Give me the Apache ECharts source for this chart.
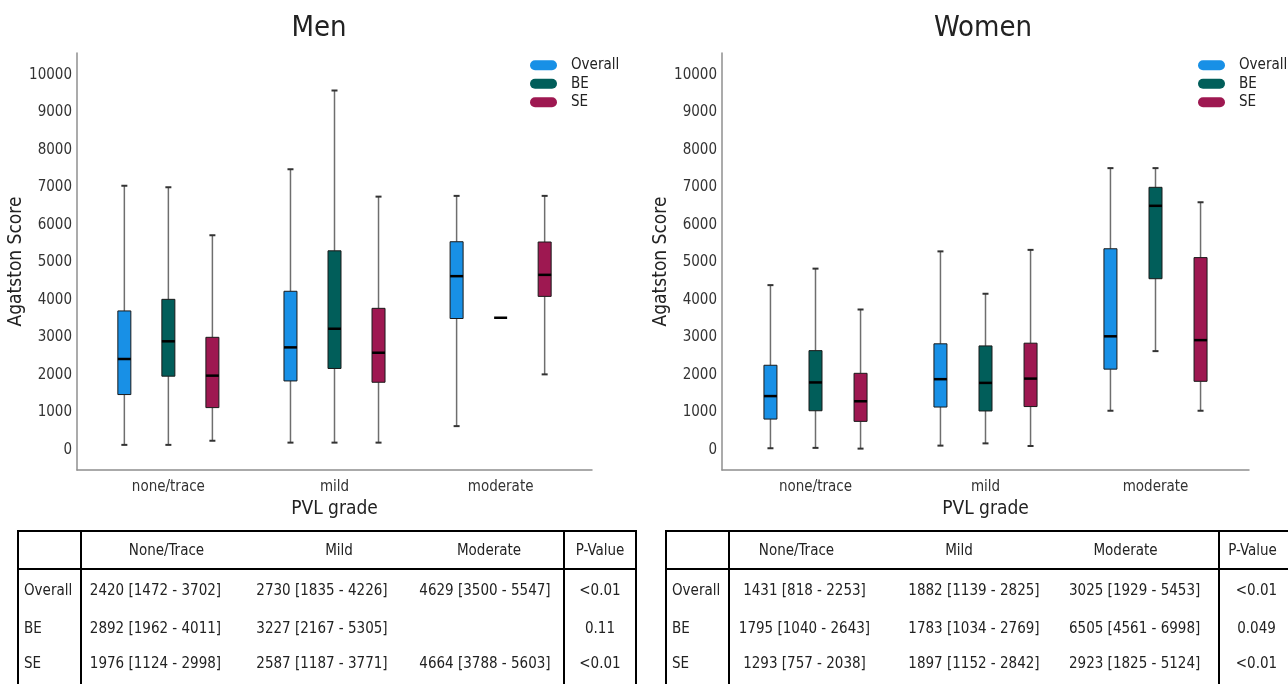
<!DOCTYPE html>
<html>
<head>
<meta charset="utf-8">
<script src="https://cdn.jsdelivr.net/npm/echarts@6/dist/echarts.min.js"></script>
<style>
html,body{margin:0;padding:0;background:#fff;}
#wrap{position:relative;width:1288px;height:684px;overflow:hidden;background:#fff;}
#chart{position:absolute;left:0;top:0;width:1288px;height:684px;}
table.t{position:absolute;top:530px;border-collapse:collapse;table-layout:fixed;
  font-family:'DejaVu Sans Condensed','DejaVu Sans',sans-serif;font-size:15px;color:#222;border:2px solid #000;}
table.t td{padding:0;white-space:nowrap;overflow:hidden;vertical-align:top;line-height:18px;text-align:center;}
table.t tr.h td{height:36px;vertical-align:middle;border-bottom:2px solid #000;}
table.t td.lab{text-align:left;padding-left:5px;border-right:2px solid #000;}
table.t td.c4{border-right:2px solid #000;}
table.t tr.r1 td{height:29px;padding-top:11px;}
table.t tr.r2 td{height:28px;padding-top:9px;}
table.t tr.r3 td{height:48px;padding-top:7px;}
</style>
</head>
<body>
<div id="wrap">
  <div id="chart"></div>
  <table class="t" id="tMen" style="left:17px;width:618px;"></table>
  <table class="t" id="tWomen" style="left:665px;width:628px;"></table>
</div>
<script>
// ---------- data ----------
const categories = ['none/trace', 'mild', 'moderate'];
const yTicks = [0, 1000, 2000, 3000, 4000, 5000, 6000, 7000, 8000, 9000, 10000];
const seriesNames = ['Overall', 'BE', 'SE'];

// each item: [min, Q1, median, Q3, max] for none/trace, mild, moderate
const menOverall = [[130, 1472, 2420, 3702, 7040], [190, 1835, 2730, 4226, 7480], [630, 3500, 4629, 5547, 6770]];
const menBE      = [[130, 1962, 2892, 4011, 7000], [190, 2167, 3227, 5305, 9580], [3520, 3520, 3520, 3520, 3520]];
const menSE      = [[240, 1124, 1976, 2998, 5720], [190, 1800, 2587, 3771, 6750], [2010, 4090, 4664, 5540, 6770]];

const womenOverall = [[40, 818, 1431, 2253, 4390], [110, 1139, 1882, 2825, 5290], [1040, 2150, 3025, 5360, 7510]];
const womenBE      = [[50, 1040, 1795, 2643, 4830], [170, 1034, 1783, 2769, 4160], [2630, 4561, 6505, 6998, 7510]];
const womenSE      = [[30, 757, 1293, 2038, 3740], [100, 1152, 1897, 2842, 5330], [1040, 1825, 2923, 5124, 6600]];

const tableHeader = ['None/Trace', 'Mild', 'Moderate', 'P-Value'];
const menTableOverall = ['2420 [1472 - 3702]', '2730 [1835 - 4226]', '4629 [3500 - 5547]', '<0.01'];
const menTableBE      = ['2892 [1962 - 4011]', '3227 [2167 - 5305]', '', '0.11'];
const menTableSE      = ['1976 [1124 - 2998]', '2587 [1187 - 3771]', '4664 [3788 - 5603]', '<0.01'];
const womenTableOverall = ['1431 [818 - 2253]', '1882 [1139 - 2825]', '3025 [1929 - 5453]', '<0.01'];
const womenTableBE      = ['1795 [1040 - 2643]', '1783 [1034 - 2769]', '6505 [4561 - 6998]', '0.049'];
const womenTableSE      = ['1293 [757 - 2038]', '1897 [1152 - 2842]', '2923 [1825 - 5124]', '<0.01'];

// ---------- style ----------
const COLORS = ['#1890e6', '#015e5a', '#9e1851'];
const OFFSETS = [-0.265, 0, 0.265];
const FONT = "'DejaVu Sans Condensed','DejaVu Sans',sans-serif";

function boxSeries(name, data, gi, k) {
  return {
    type: 'custom', name: name, xAxisIndex: gi, yAxisIndex: gi,
    itemStyle: { color: COLORS[k] },
    encode: { x: 0, y: [1, 2, 3, 4, 5] },
    data: data.map((d, i) => [i].concat(d)),
    renderItem: function (params, api) {
      const x = api.value(0) + OFFSETS[k];
      const v = [1, 2, 3, 4, 5].map(j => api.value(j));
      const p = v.map(val => api.coord([x, val]));
      const cx = p[0][0];
      const hw = 6.5, cw = 3;
      const ch = [];
      if (v[4] > v[3]) {
        ch.push({ type: 'line', shape: { x1: cx, y1: p[4][1], x2: cx, y2: p[3][1] }, style: { stroke: '#6e6e6e', lineWidth: 1.5 } });
        ch.push({ type: 'line', shape: { x1: cx - cw, y1: p[4][1], x2: cx + cw, y2: p[4][1] }, style: { stroke: '#333', lineWidth: 2 } });
      }
      if (v[1] > v[0]) {
        ch.push({ type: 'line', shape: { x1: cx, y1: p[1][1], x2: cx, y2: p[0][1] }, style: { stroke: '#6e6e6e', lineWidth: 1.5 } });
        ch.push({ type: 'line', shape: { x1: cx - cw, y1: p[0][1], x2: cx + cw, y2: p[0][1] }, style: { stroke: '#333', lineWidth: 2 } });
      }
      if (v[3] > v[1]) {
        ch.push({ type: 'rect', shape: { x: cx - hw, y: p[3][1], width: 2 * hw, height: p[1][1] - p[3][1] },
          style: { fill: COLORS[k], stroke: '#1a1a1a', lineWidth: 1 } });
      }
      ch.push({ type: 'line', shape: { x1: cx - hw, y1: p[2][1], x2: cx + hw, y2: p[2][1] }, style: { stroke: '#000', lineWidth: 2.5 } });
      return { type: 'group', children: ch };
    }
  };
}

function xAxis(gi) {
  return {
    type: 'value', gridIndex: gi, min: -0.55, max: 2.55,
    name: 'PVL grade', nameLocation: 'middle', nameGap: 30,
    nameTextStyle: { fontFamily: FONT, fontSize: 19, color: '#222' },
    axisLine: { show: true, onZero: false, lineStyle: { color: '#8f8f8f', width: 1.5 } },
    axisTick: { show: false },
    splitLine: { show: false },
    axisLabel: { customValues: [0, 1, 2], formatter: v => categories[Math.round(v)], margin: 10,
      fontFamily: FONT, fontSize: 15, color: '#333' }
  };
}
function yAxis(gi) {
  return {
    type: 'value', gridIndex: gi, min: -540, max: 10580,
    name: 'Agatston Score', nameLocation: 'middle', nameGap: 43,
    nameTextStyle: { fontFamily: FONT, fontSize: 19, color: '#222' },
    axisLine: { show: true, onZero: false, lineStyle: { color: '#8f8f8f', width: 1.5 } },
    axisTick: { show: false },
    splitLine: { show: false },
    axisLabel: { customValues: yTicks, formatter: v => String(v), margin: 5, padding: [4, 0, 0, 0],
      fontFamily: FONT, fontSize: 15, color: '#333' }
  };
}
const pillIcon = 'path://M5,0H22A5,5,0,0,1,22,10H5A5,5,0,0,1,5,0Z';
function legend(left) {
  return {
    orient: 'vertical', left: left, top: 56, padding: 0,
    itemWidth: 27, itemHeight: 10, itemGap: 0, icon: pillIcon,
    textStyle: { fontFamily: FONT, fontSize: 15, color: '#222', lineHeight: 18.5, padding: [0, 0, 0, 9] },
    data: seriesNames.map((n, k) => ({ name: n, itemStyle: { color: COLORS[k] } }))
  };
}

const chart = echarts.init(document.getElementById('chart'), null, { renderer: 'canvas' });
chart.setOption({
  animation: false,
  backgroundColor: '#fff',
  graphic: [
    { type: 'text', x: 319, y: 28, style: { text: 'Men', fontFamily: FONT, fontSize: 29, fill: '#222', align: 'center', verticalAlign: 'middle' } },
    { type: 'text', x: 983, y: 28, style: { text: 'Women', fontFamily: FONT, fontSize: 29, fill: '#222', align: 'center', verticalAlign: 'middle' } }
  ],
  legend: [legend(530), legend(1198)],
  grid: [
    { left: 77, top: 53, width: 515, height: 417 },
    { left: 722, top: 53, width: 527, height: 417 }
  ],
  xAxis: [xAxis(0), xAxis(1)],
  yAxis: [yAxis(0), yAxis(1)],
  series: [
    boxSeries('Overall', menOverall, 0, 0),
    boxSeries('BE', menBE, 0, 1),
    boxSeries('SE', menSE, 0, 2),
    boxSeries('Overall', womenOverall, 1, 0),
    boxSeries('BE', womenBE, 1, 1),
    boxSeries('SE', womenSE, 1, 2)
  ]
});

// ---------- tables ----------
function buildTable(id, widths, hdrPad, valPad, rows) {
  const t = document.getElementById(id);
  let html = '<colgroup>' + widths.map(w => '<col style="width:' + w + 'px">').join('') + '</colgroup>';
  html += '<tr class="h"><td class="lab"></td>' + tableHeader.map((h, i) =>
    '<td class="' + (i === 2 ? 'c4' : '') + '" style="' + hdrPad[i] + '">' + h + '</td>').join('') + '</tr>';
  rows.forEach((r, ri) => {
    html += '<tr class="r' + (ri + 1) + '"><td class="lab">' + r[0] + '</td>' + r[1].map((c, i) =>
      '<td class="' + (i === 2 ? 'c4' : '') + '" style="' + valPad[i] + '">' + c.replace('<', '&lt;') + '</td>').join('') + '</tr>';
  });
  t.innerHTML = html;
}
buildTable('tMen', [63, 148, 186, 149, 72],
  ['padding-left:22px', 'padding-left:34px', '', ''],
  ['', '', 'padding-right:8px', ''],
  [['Overall', menTableOverall], ['BE', menTableBE], ['SE', menTableSE]]);
buildTable('tWomen', [63, 150, 190, 150, 75],
  ['padding-right:16px', 'padding-right:30px', 'padding-right:36px', 'padding-right:8px'],
  ['', '', 'padding-right:18px', ''],
  [['Overall', womenTableOverall], ['BE', womenTableBE], ['SE', womenTableSE]]);
</script>
</body>
</html>
